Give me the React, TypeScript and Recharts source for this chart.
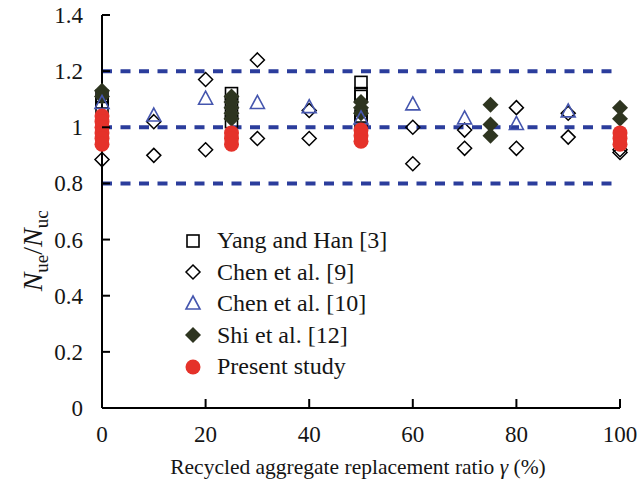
import React from "react";
import {
  Legend,
  ReferenceLine,
  Scatter,
  ScatterChart,
  XAxis,
  YAxis,
} from "recharts";

// replacement ratio (%) and Nue/Nuc for each source
const yangX = [0, 0, 0, 25, 25, 25, 25, 50, 50, 50, 50, 50];
const yangY = [1.11, 1.09, 1.07, 1.12, 1.09, 1.05, 1.02, 1.16, 1.12, 1.11, 1.04, 1.02];

const chen9X = [0, 10, 10, 20, 20, 30, 30, 40, 40, 60, 60, 70, 70, 80, 80, 90, 90, 100, 100];
const chen9Y = [0.885, 1.02, 0.9, 1.17, 0.92, 1.24, 0.96, 1.06, 0.96, 1.0, 0.87, 0.99, 0.925, 1.07, 0.925, 1.05, 0.965, 0.92, 0.91];

const chen10X = [0, 10, 20, 30, 40, 50, 60, 70, 80, 90];
const chen10Y = [1.085, 1.04, 1.1, 1.085, 1.07, 1.03, 1.08, 1.03, 1.01, 1.055];

const shiX = [0, 0, 25, 25, 25, 25, 25, 50, 50, 50, 75, 75, 75, 100, 100];
const shiY = [1.13, 1.11, 1.11, 1.09, 1.07, 1.05, 1.03, 1.09, 1.07, 1.05, 1.08, 1.01, 0.97, 1.07, 1.03];

const presentX = [0, 0, 0, 0, 0, 0, 25, 25, 25, 50, 50, 50, 100, 100, 100];
const presentY = [1.04, 1.02, 1.0, 0.98, 0.96, 0.94, 0.98, 0.96, 0.94, 0.99, 0.97, 0.95, 0.98, 0.96, 0.94];

const xTicks = [0, 20, 40, 60, 80, 100];
const yTicks = [0, 0.2, 0.4, 0.6, 0.8, 1, 1.2, 1.4];
const guideLines = [1.2, 1, 0.8];

const legendNames = ["Yang and Han [3]", "Chen et al. [9]", "Chen et al. [10]", "Shi et al. [12]", "Present study"];

const toPoints = (xs: number[], ys: number[]) => xs.map((x, i) => ({ x, y: ys[i] }));

const FONT = "'Liberation Serif', 'DejaVu Serif', serif";
const BLUE = "#2B3D9C";
const TRI = "#4556AE";
const DARK = "#2E3520";
const RED = "#E5322A";
const INK = "#151515";

const Square = ({ cx, cy }: any) => (
  <rect x={cx - 6} y={cy - 6} width={12} height={12} fill="none" stroke="#000" strokeWidth={1.6} />
);
const Diamond = ({ cx, cy }: any) => (
  <path d={`M${cx},${cy - 7} L${cx + 7},${cy} L${cx},${cy + 7} L${cx - 7},${cy} Z`} fill="none" stroke="#000" strokeWidth={1.5} />
);
const Triangle = ({ cx, cy }: any) => (
  <path d={`M${cx},${cy - 8} L${cx + 7},${cy + 5} L${cx - 7},${cy + 5} Z`} fill="none" stroke={TRI} strokeWidth={1.6} />
);
const FilledDiamond = ({ cx, cy }: any) => (
  <path d={`M${cx},${cy - 8} L${cx + 8},${cy} L${cx},${cy + 8} L${cx - 8},${cy} Z`} fill={DARK} />
);
const Dot = ({ cx, cy }: any) => <circle cx={cx} cy={cy} r={7.5} fill={RED} />;

const legendShapes = [Square, Diamond, Triangle, FilledDiamond, Dot];

const YTick = ({ x, y, payload }: any) => (
  <g>
    {payload.value > 0 && (
      <line x1={x + 19} x2={x + 27} y1={y} y2={y} stroke="#000" strokeWidth={2} />
    )}
    <text x={x} y={y} dy="0.35em" textAnchor="end" fontFamily={FONT} fontSize={23} fill={INK}>
      {payload.value}
    </text>
  </g>
);

const XTick = ({ x, y, payload }: any) => (
  <g>
    {payload.value > 0 && (
      <line x1={x} x2={x} y1={y - 18} y2={y - 27} stroke="#000" strokeWidth={2} />
    )}
    <text x={x} y={y} dy="0.68em" textAnchor="middle" fontFamily={FONT} fontSize={23} fill={INK}>
      {payload.value}
    </text>
  </g>
);

const YLabel = ({ viewBox }: any) => {
  const cx = viewBox.x + 32;
  const cy = viewBox.y + viewBox.height * 0.6;
  return (
    <text
      x={cx}
      y={cy}
      transform={`rotate(-90, ${cx}, ${cy})`}
      textAnchor="middle"
      dy="0.35em"
      fontFamily={FONT}
      fontSize={28}
      fill={INK}
    >
      <tspan fontStyle="italic">N</tspan>
      <tspan fontSize={19} dy={6}>ue</tspan>
      <tspan dy={-6}>/</tspan>
      <tspan fontStyle="italic">N</tspan>
      <tspan fontSize={19} dy={6}>uc</tspan>
    </text>
  );
};

const XLabel = ({ viewBox }: any) => (
  <text
    x={viewBox.x + viewBox.width / 2 - 3}
    y={viewBox.y + 58}
    dy="0.35em"
    textAnchor="middle"
    fontFamily={FONT}
    fontSize={21.5}
    fill={INK}
  >
    Recycled aggregate replacement ratio <tspan fontStyle="italic">γ</tspan> (%)
  </text>
);

const LegendBox = () => (
  <div style={{ fontFamily: FONT, fontSize: 24, color: INK }}>
    {legendNames.map((name, i) => {
      const Shape = legendShapes[i];
      return (
        <div key={name} style={{ display: "flex", alignItems: "center", height: 31.5 }}>
          <svg width={22} height={22} style={{ marginRight: 13 }}>
            <Shape cx={11} cy={11} />
          </svg>
          <span>{name}</span>
        </div>
      );
    })}
  </div>
);

const App: React.FC = () => {
  return (
    <div style={{ position: "absolute", left: 0, top: 0, background: "#fff" }}>
      <ScatterChart width={640} height={480} margin={{ top: 15, right: 20, left: 0, bottom: 0 }}>
        <XAxis
          type="number"
          dataKey="x"
          domain={[0, 100]}
          ticks={xTicks}
          tick={<XTick />}
          tickLine={false}
          tickSize={0}
          tickMargin={18}
          height={72}
          axisLine={{ stroke: "#000", strokeWidth: 2 }}
          label={<XLabel />}
        />
        <YAxis
          type="number"
          dataKey="y"
          domain={[0, 1.4]}
          ticks={yTicks}
          tick={<YTick />}
          tickLine={false}
          tickSize={0}
          tickMargin={19}
          width={102}
          axisLine={{ stroke: "#000", strokeWidth: 2 }}
          label={<YLabel />}
        />
        {guideLines.map((v) => (
          <ReferenceLine key={v} y={v} stroke={BLUE} strokeWidth={4} strokeDasharray="10 8.5" />
        ))}
        <Legend
          content={<LegendBox />}
          layout="horizontal"
          verticalAlign="middle"
          align="center"
          wrapperStyle={{ left: 182, top: 225, width: "auto" }}
        />
        <Scatter name="Chen et al. [9]" data={toPoints(chen9X, chen9Y)} shape={<Diamond />} isAnimationActive={false} />
        <Scatter name="Yang and Han [3]" data={toPoints(yangX, yangY)} shape={<Square />} isAnimationActive={false} />
        <Scatter name="Shi et al. [12]" data={toPoints(shiX, shiY)} shape={<FilledDiamond />} isAnimationActive={false} />
        <Scatter name="Chen et al. [10]" data={toPoints(chen10X, chen10Y)} shape={<Triangle />} isAnimationActive={false} />
        <Scatter name="Present study" data={toPoints(presentX, presentY)} shape={<Dot />} isAnimationActive={false} />
      </ScatterChart>
    </div>
  );
};

export default App;
